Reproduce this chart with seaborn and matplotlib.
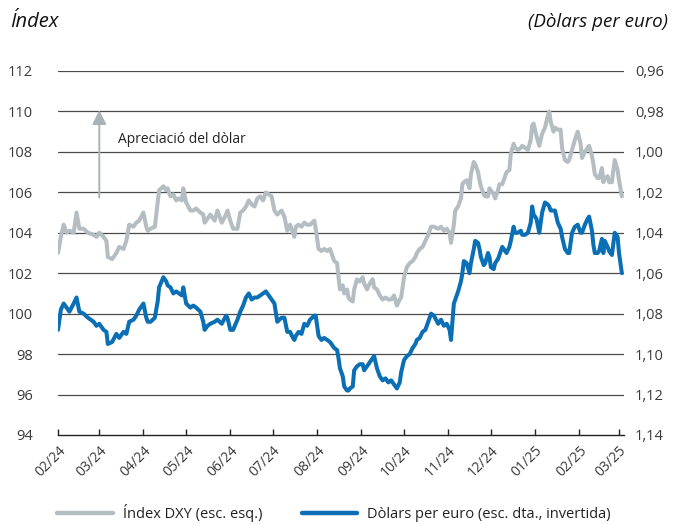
import numpy as np
import pandas as pd
import matplotlib
matplotlib.use("Agg")
import matplotlib.pyplot as plt
import matplotlib.dates as mdates
from matplotlib.ticker import FuncFormatter, MultipleLocator
from matplotlib.lines import Line2D
import seaborn as sns

# ---------------- data ----------------
dates = [
    "2024-02-01", "2024-02-03", "2024-02-05", "2024-02-07", "2024-02-09", "2024-02-12", "2024-02-14",
    "2024-02-16", "2024-02-19", "2024-02-22", "2024-02-26", "2024-02-28", "2024-03-01", "2024-03-04",
    "2024-03-06", "2024-03-07", "2024-03-10", "2024-03-13", "2024-03-15", "2024-03-18", "2024-03-20",
    "2024-03-22", "2024-03-25", "2024-03-27", "2024-03-29", "2024-04-01", "2024-04-03", "2024-04-04",
    "2024-04-06", "2024-04-09", "2024-04-11", "2024-04-12", "2024-04-15", "2024-04-17", "2024-04-18",
    "2024-04-20", "2024-04-22", "2024-04-24", "2024-04-26", "2024-04-28", "2024-04-29", "2024-05-01",
    "2024-05-04", "2024-05-06", "2024-05-08", "2024-05-11", "2024-05-13", "2024-05-14", "2024-05-16",
    "2024-05-18", "2024-05-21", "2024-05-23", "2024-05-26", "2024-05-29", "2024-05-30", "2024-06-01",
    "2024-06-03", "2024-06-06", "2024-06-08", "2024-06-10", "2024-06-12", "2024-06-14", "2024-06-16",
    "2024-06-18", "2024-06-20", "2024-06-22", "2024-06-24", "2024-06-26", "2024-06-28", "2024-06-30",
    "2024-07-02", "2024-07-04", "2024-07-07", "2024-07-09", "2024-07-11", "2024-07-13", "2024-07-15",
    "2024-07-16", "2024-07-17", "2024-07-19", "2024-07-21", "2024-07-23", "2024-07-25", "2024-07-27",
    "2024-07-30", "2024-07-31", "2024-08-02", "2024-08-04", "2024-08-06", "2024-08-08", "2024-08-10",
    "2024-08-13", "2024-08-15", "2024-08-16", "2024-08-17", "2024-08-19", "2024-08-20", "2024-08-22",
    "2024-08-23", "2024-08-24", "2024-08-26", "2024-08-27", "2024-08-29", "2024-08-31", "2024-09-02",
    "2024-09-03", "2024-09-05", "2024-09-07", "2024-09-09", "2024-09-10", "2024-09-12", "2024-09-14",
    "2024-09-16", "2024-09-18", "2024-09-20", "2024-09-22", "2024-09-24", "2024-09-26", "2024-09-28",
    "2024-09-29", "2024-10-01", "2024-10-03", "2024-10-05", "2024-10-07", "2024-10-09", "2024-10-10",
    "2024-10-12", "2024-10-14", "2024-10-16", "2024-10-18", "2024-10-20", "2024-10-22", "2024-10-25",
    "2024-10-27", "2024-10-29", "2024-10-31", "2024-11-02", "2024-11-03", "2024-11-05", "2024-11-06",
    "2024-11-08", "2024-11-10", "2024-11-11", "2024-11-12", "2024-11-14", "2024-11-16", "2024-11-17",
    "2024-11-19", "2024-11-20", "2024-11-22", "2024-11-23", "2024-11-24", "2024-11-26", "2024-11-27",
    "2024-11-29", "2024-11-30", "2024-12-01", "2024-12-03", "2024-12-04", "2024-12-06", "2024-12-07",
    "2024-12-09", "2024-12-11", "2024-12-12", "2024-12-14", "2024-12-15", "2024-12-17", "2024-12-18",
    "2024-12-20", "2024-12-22", "2024-12-23", "2024-12-25", "2024-12-27", "2024-12-29", "2024-12-30",
    "2024-12-31", "2025-01-02", "2025-01-04", "2025-01-06", "2025-01-08", "2025-01-10", "2025-01-11",
    "2025-01-12", "2025-01-14", "2025-01-15", "2025-01-17", "2025-01-19", "2025-01-20", "2025-01-22",
    "2025-01-24", "2025-01-25", "2025-01-27", "2025-01-29", "2025-01-31", "2025-02-02", "2025-02-03",
    "2025-02-05", "2025-02-07", "2025-02-08", "2025-02-10", "2025-02-11", "2025-02-12", "2025-02-14",
    "2025-02-15", "2025-02-17", "2025-02-18", "2025-02-19", "2025-02-21", "2025-02-22", "2025-02-24",
    "2025-02-26", "2025-02-28", "2025-03-01", "2025-03-03",
]

dxy = [
    103.0, 103.8, 104.4, 104.0, 104.1, 104.0, 105.0,
    104.2, 104.2, 104.0, 103.9, 103.8, 104.0, 103.8,
    103.6, 102.8, 102.7, 103.0, 103.3, 103.2, 103.6,
    104.4, 104.3, 104.5, 104.6, 105.0, 104.3, 104.1,
    104.2, 104.3, 105.5, 106.1, 106.3, 106.1, 106.2,
    105.8, 105.9, 105.6, 105.7, 105.6, 106.2, 105.5,
    105.1, 105.1, 105.2, 105.0, 104.9, 104.5, 104.7,
    104.9, 104.6, 105.1, 104.5, 104.9, 105.1, 104.6,
    104.2, 104.2, 105.0, 105.1, 105.3, 105.6, 105.4,
    105.3, 105.7, 105.8, 105.6, 106.0, 105.9, 105.8,
    105.1, 104.9, 105.1, 104.8, 104.1, 104.4, 104.0,
    103.8, 104.3, 104.4, 104.3, 104.5, 104.4, 104.4,
    104.6, 104.2, 103.2, 103.1, 103.2, 103.1, 103.2,
    102.6, 102.5, 101.8, 101.2, 101.4, 101.0, 101.2,
    100.8, 100.7, 100.6, 101.2, 101.7, 101.6, 101.8,
    101.5, 101.2, 101.5, 101.7, 101.3, 101.2, 100.9,
    100.7, 100.8, 100.7, 100.7, 100.9, 100.4, 100.7,
    100.8, 101.8, 102.3, 102.5, 102.6, 102.8, 103.0,
    103.2, 103.3, 103.6, 103.9, 104.3, 104.3, 104.2,
    104.3, 104.1, 104.2, 104.0, 103.5, 104.4, 105.1,
    105.3, 105.7, 106.4, 106.5, 106.6, 106.2, 106.9,
    107.5, 107.4, 107.0, 106.6, 106.3, 105.9, 105.8,
    105.8, 106.2, 106.1, 105.9, 105.7, 106.1, 106.4,
    106.4, 106.8, 107.0, 107.1, 107.9, 108.4, 108.2,
    108.1, 108.2, 108.3, 108.2, 108.1, 108.6, 109.3,
    109.4, 108.8, 108.3, 108.9, 109.2, 109.8, 110.0,
    109.5, 109.0, 109.2, 109.1, 109.1, 108.2, 107.6,
    107.5, 107.6, 108.1, 108.6, 109.0, 108.4, 107.7,
    108.0, 108.2, 108.3, 107.8, 107.4, 106.9, 106.7,
    106.7, 107.2, 106.5, 106.7, 106.8, 106.5, 106.5,
    107.6, 107.1, 106.6, 105.8,
]

eurusd = [
    1.088, 1.078, 1.075, 1.077, 1.079, 1.075, 1.072,
    1.079, 1.080, 1.082, 1.084, 1.086, 1.085, 1.088,
    1.089, 1.095, 1.094, 1.090, 1.092, 1.089, 1.090,
    1.084, 1.083, 1.081, 1.078, 1.075, 1.082, 1.084,
    1.084, 1.082, 1.074, 1.067, 1.062, 1.064, 1.066,
    1.067, 1.070, 1.069, 1.070, 1.071, 1.067, 1.075,
    1.077, 1.076, 1.077, 1.079, 1.084, 1.088, 1.086,
    1.085, 1.084, 1.083, 1.085, 1.081, 1.082, 1.088,
    1.088, 1.083, 1.079, 1.076, 1.072, 1.070, 1.073,
    1.072, 1.072, 1.071, 1.070, 1.069, 1.071, 1.073,
    1.075, 1.084, 1.082, 1.082, 1.089, 1.089, 1.092,
    1.093, 1.091, 1.089, 1.090, 1.085, 1.086, 1.083,
    1.081, 1.081, 1.091, 1.093, 1.092, 1.093, 1.094,
    1.097, 1.098, 1.102, 1.107, 1.111, 1.116, 1.118,
    1.118, 1.117, 1.116, 1.108, 1.106, 1.105, 1.105,
    1.108, 1.106, 1.104, 1.102, 1.101, 1.107, 1.111,
    1.113, 1.112, 1.114, 1.113, 1.115, 1.117, 1.114,
    1.109, 1.103, 1.101, 1.100, 1.097, 1.095, 1.093,
    1.092, 1.089, 1.088, 1.084, 1.080, 1.081, 1.085,
    1.083, 1.086, 1.085, 1.088, 1.093, 1.075, 1.073,
    1.069, 1.064, 1.060, 1.054, 1.055, 1.060, 1.055,
    1.048, 1.044, 1.045, 1.048, 1.052, 1.056, 1.055,
    1.050, 1.052, 1.057, 1.058, 1.055, 1.053, 1.051,
    1.047, 1.049, 1.050, 1.047, 1.044, 1.037, 1.040,
    1.040, 1.039, 1.041, 1.041, 1.040, 1.035, 1.027,
    1.031, 1.033, 1.040, 1.030, 1.025, 1.026, 1.027,
    1.029, 1.029, 1.029, 1.035, 1.038, 1.042, 1.048,
    1.050, 1.050, 1.040, 1.037, 1.036, 1.040, 1.040,
    1.036, 1.033, 1.032, 1.039, 1.046, 1.050, 1.050,
    1.049, 1.043, 1.050, 1.044, 1.047, 1.049, 1.051,
    1.040, 1.042, 1.050, 1.060,
]

left_ticks = [94, 96, 98, 100, 102, 104, 106, 108, 110, 112]
right_ticks = [0.96, 0.98, 1.00, 1.02, 1.04, 1.06, 1.08, 1.10, 1.12, 1.14]
label_dxy = "Índex DXY (esc. esq.)"
label_eur = "Dòlars per euro (esc. dta., invertida)"
title_left = "Índex"
title_right = "(Dòlars per euro)"
note_text = "Apreciació del dòlar"

# ---------------- styling ----------------
sns.set_theme(style="white")
plt.rcParams["font.family"] = ["Open Sans", "DejaVu Sans"]

GREY = "#B4BDC1"
BLUE = "#0A6FB5"
TXT = "#3a3a3a"

df = pd.DataFrame({"date": pd.to_datetime(dates), "dxy": dxy, "eurusd": eurusd})

fig = plt.figure(figsize=(6.81, 5.24), dpi=100)
ax = fig.add_axes([58 / 681, 1 - 435 / 524, (624 - 58) / 681, (435 - 71) / 524])
ax2 = ax.twinx()

sns.lineplot(data=df, x="date", y="dxy", ax=ax, color=GREY, lw=2.9, legend=False)
sns.lineplot(data=df, x="date", y="eurusd", ax=ax2, color=BLUE, lw=2.9, legend=False)

ax.set_ylim(94, 112)
ax2.set_ylim(1.14, 0.96)
ax.set_xlim(pd.Timestamp("2024-02-01"), pd.Timestamp("2025-03-04 12:00"))

ax.set_yticks(left_ticks)
ax2.set_yticks(right_ticks)
ax2.yaxis.set_major_formatter(FuncFormatter(lambda v, p: f"{v:.2f}".replace(".", ",")))

for y in left_ticks[1:]:
    ax.axhline(y, color="#4a4a4a", lw=0.9, zorder=0)

for a in (ax, ax2):
    for s in a.spines.values():
        s.set_visible(False)
    a.set_xlabel("")
    a.set_ylabel("")
    a.grid(False)
ax.spines["bottom"].set_visible(True)
ax.spines["bottom"].set_color("#222222")
ax.spines["bottom"].set_linewidth(1.0)

ax.tick_params(axis="y", length=0, labelsize=10.5, labelcolor=TXT, pad=18)
ax2.tick_params(axis="y", length=0, labelsize=10.5, labelcolor=TXT, pad=8)

ax.xaxis.set_major_locator(mdates.MonthLocator())
ax.xaxis.set_major_formatter(mdates.DateFormatter("%m/%y"))
ax.tick_params(axis="x", direction="in", length=4, width=1, color="#222222",
               labelsize=10, labelcolor=TXT, pad=6, bottom=True)
for lbl in ax.get_xticklabels():
    lbl.set_rotation(45)
    lbl.set_ha("right")
    lbl.set_rotation_mode("anchor")

ax.set_zorder(1)
ax.patch.set_visible(False)
ax2.set_zorder(2)

# titles
fig.text(10 / 681, 1 - 22 / 524, title_left, fontsize=14.5, style="italic",
         color="#111111", ha="left", va="center")
fig.text(668 / 681, 1 - 22 / 524, title_right, fontsize=13.5, style="italic",
         color="#111111", ha="right", va="center")

# annotation arrow
ax.annotate("", xy=(pd.Timestamp("2024-03-01"), 110.2), xytext=(pd.Timestamp("2024-03-01"), 105.6),
            arrowprops=dict(arrowstyle="-|>,head_width=0.35,head_length=0.7", color="#A9B2B6", lw=1.4))
ax.text(pd.Timestamp("2024-03-14"), 108.6, note_text, fontsize=10, color="#222222",
        ha="left", va="center")

# legend
handles = [Line2D([0], [0], color=GREY, lw=3.2), Line2D([0], [0], color=BLUE, lw=3.2)]
fig.legend(handles, [label_dxy, label_eur], loc="center", bbox_to_anchor=(334 / 681, 1 - 513 / 524),
           ncol=2, frameon=False, fontsize=10.5, handlelength=3.8, handletextpad=0.7,
           columnspacing=2.7, labelcolor="#222222")

fig.savefig("out.png", dpi=100)
